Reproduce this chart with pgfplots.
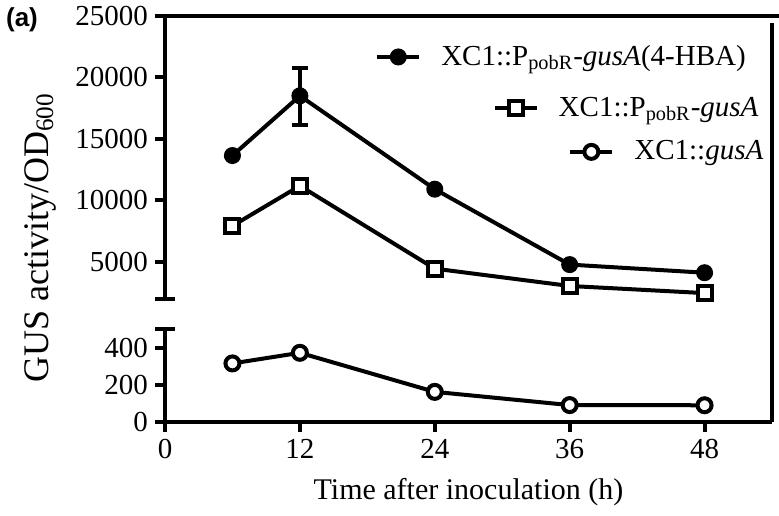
\documentclass[border=0pt]{standalone}
\usepackage{fontspec}
\setmainfont{Liberation Serif}
\newfontfamily\arialfont{Liberation Sans}
\usepackage{pgfplots}
\pgfplotsset{compat=1.18}
\begin{document}
\begin{tikzpicture}
\pgfplotsset{
  common/.style={
    scale only axis, width=303.5pt, xmin=0, xmax=54,
    axis line style={line width=2pt,-},
    tick style={line width=2pt, black},
    major tick length=5pt,
    tick align=outside,
    /pgf/number format/assume math mode=true,
    tick label style={font=\fontsize{14.5}{17}\selectfont},
    clip mode=individual,
  },
  legstyle/.style={
    at={(upper.north west)}, anchor=north west, scale only axis,
    width=303.5pt, height=141.25pt, hide axis,
    xmin=0, xmax=1, ymin=0, ymax=1,
    legend image code/.code={\draw[mark repeat=2,mark phase=2,##1] plot coordinates {(0pt,0pt) (10.5pt,0pt) (21pt,0pt)};},
    legend style={draw=none, fill=none, inner sep=0pt, column sep=8pt, font=\fontsize{14.5}{17}\selectfont, anchor=east},
  }
}
% lower axis
\begin{axis}[common, name=lower, height=46.5pt, ymin=0, ymax=500, ytick={0,200,400},
  axis x line*=bottom, axis y line*=left, xtick={0,12,24,36,48}]
\addplot[black, line width=2pt, mark=*, mark size=3.5pt, mark options={fill=white, line width=2pt}]
  coordinates {(6,315) (12,372) (24,162) (36,91) (48,90)};
\end{axis}
% upper axis
\begin{axis}[common, name=upper, at={(lower.north west)}, anchor=south west, yshift=15.25pt,
  height=141.25pt, ymin=2000, ymax=25000, ytick={5000,10000,15000,20000,25000},
  axis y line*=left, axis x line=none, scaled y ticks=false,
  yticklabel style={/pgf/number format/.cd, fixed, 1000 sep={}}]
\addplot[black, line width=2pt, mark=*, mark size=3.75pt, mark options={fill=black, line width=1pt},
  error bars/.cd, y dir=both, y explicit,
  error bar style={line width=2pt, black},
  error mark options={rotate=90, mark size=4pt, line width=2pt, black}]
  coordinates {(6,13640) +- (0,0) (12,18500) += (0,2260) -= (0,2360) (24,10900) +- (0,0) (36,4760) +- (0,0) (48,4100) +- (0,0)};
\addplot[black, line width=2pt, mark=square*, mark size=3.5pt, mark options={fill=white, line width=2pt}]
  coordinates {(6,7915) (12,11170) (24,4430) (36,3020) (48,2440)};
\end{axis}
% legends
\begin{axis}[legstyle, legend style={at={(0.964,0.855)}}]
\addlegendimage{black, line width=2pt, mark=*, mark size=3.75pt, mark options={fill=black, line width=1pt}}
\addlegendentry{XC1::P\textsubscript{pobR}-\textit{gusA}(4-HBA)}
\end{axis}
\begin{axis}[legstyle, legend style={at={(0.985,0.674)}}]
\addlegendimage{black, line width=2pt, mark=square*, mark size=3.5pt, mark options={fill=white, line width=2pt}}
\addlegendentry{XC1::P\textsubscript{pobR}-\textit{gusA}}
\end{axis}
\begin{axis}[legstyle, legend style={at={(0.993,0.519)}}]
\addlegendimage{black, line width=2pt, mark=*, mark size=3.5pt, mark options={fill=white, line width=2pt}}
\addlegendentry{XC1::\textit{gusA}}
\end{axis}
% break marks and frame
\draw[line width=2pt] ([xshift=-5pt]upper.south west) -- ([xshift=5pt]upper.south west);
\draw[line width=2pt] ([xshift=-5pt]lower.north west) -- ([xshift=5pt]lower.north west);
\draw[line width=2pt] ([xshift=-1pt]upper.north west) -- ([xshift=307pt]upper.north west);
\draw[line width=2pt] ([yshift=-3.5pt]upper.north east) -- (lower.south east);
% labels
\node[rotate=90, font=\fontsize{18}{20}\selectfont] at ([xshift=-62.5pt, yshift=92pt]lower.south west) {GUS activity/OD\textsubscript{600}};
\node[font=\fontsize{15}{18}\selectfont] at ([yshift=-35pt]lower.south) {Time after inoculation (h)};
\node[font=\arialfont\bfseries\fontsize{13}{15}\selectfont] at ([xshift=-71.5pt, yshift=-2pt]upper.north west) {(a)};
\pgfresetboundingbox
\path[use as bounding box] ([xshift=-82.5pt, yshift=-46.5pt]lower.south west) rectangle ([xshift=307pt, yshift=8pt]upper.north west);
\end{tikzpicture}
\end{document}
